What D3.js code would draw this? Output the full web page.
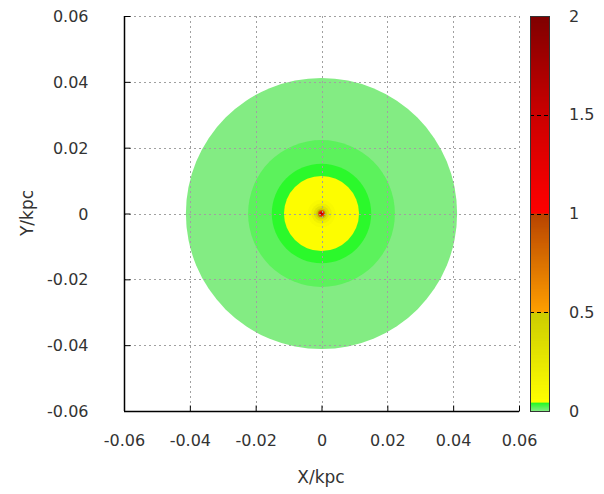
<!DOCTYPE html>
<html>
<head>
<meta charset="utf-8">
<script src="https://cdn.jsdelivr.net/npm/d3@7"></script>
<style>
  body { margin: 0; background: white; }
  text { font-family: "DejaVu Sans", sans-serif; }
</style>
</head>
<body>
<script>
// axis ticks (kpc)
const xTicks = [-0.06, -0.04, -0.02, 0, 0.02, 0.04, 0.06];
const yTicks = [-0.06, -0.04, -0.02, 0, 0.02, 0.04, 0.06];
const cbTicks = [0, 0.5, 1, 1.5, 2];

// radial density bands: outer radius (kpc) and value
const bandRadius = [0.0412, 0.0223, 0.0151, 0.0114, 0.0042, 0.0031, 0.0023, 0.0016, 0.0011, 0.0007, 0.0004];
const bandValue = [0.003, 0.02, 0.041, 0.06, 0.1, 0.18, 0.3, 0.5, 0.8, 1.15, 1.6];

// palette stops
const palStops = [0, 0.045, 0.0451, 0.5, 0.5001, 1, 1.0001, 1.5, 2];
const palColors = ['#8aeb8a', '#22fa22', '#ffff00', '#cccc00', '#ffa000', '#b84400', '#ff0000', '#cc0000', '#800000'];

const W = 604, H = 494;
const pLeft = 124, pRight = 519, pTop = 16, pBottom = 411;

const svg = d3.select('body').append('svg')
    .attr('width', W)
    .attr('height', H);

const x = d3.scaleLinear().domain([-0.06, 0.06]).range([pLeft, pRight]);
const y = d3.scaleLinear().domain([-0.06, 0.06]).range([pBottom, pTop]);
const color = d3.scaleLinear().domain(palStops).range(palColors).clamp(true);

svg.append('clipPath').attr('id', 'plotclip')
  .append('rect')
    .attr('x', pLeft).attr('y', pTop)
    .attr('width', pRight - pLeft).attr('height', pBottom - pTop);

// map
const map = svg.append('g').attr('clip-path', 'url(#plotclip)');
map.selectAll('circle')
    .data(bandRadius.map((r, i) => ({ r: r, v: bandValue[i] })))
    .enter()
    .append('circle')
    .attr('cx', x(0))
    .attr('cy', y(0))
    .attr('r', d => x(d.r) - x(0))
    .attr('fill', d => color(d.v));

// grid
const grid = svg.append('g')
    .attr('stroke', '#a0a0a0')
    .attr('stroke-width', 1)
    .attr('stroke-dasharray', '2,3');
grid.selectAll('.gx').data(xTicks).enter().append('line')
    .attr('x1', d => Math.round(x(d)) + 0.5).attr('x2', d => Math.round(x(d)) + 0.5)
    .attr('y1', pTop).attr('y2', pBottom);
grid.selectAll('.gy').data(yTicks).enter().append('line')
    .attr('y1', d => Math.round(y(d)) + 0.5).attr('y2', d => Math.round(y(d)) + 0.5)
    .attr('x1', pLeft).attr('x2', pRight);

// axes (ticks inward)
const fmt = d => d === 0 ? '0' : d3.format('.2f')(d).replace('\u2212', '-');
const xAxis = d3.axisBottom(x).tickValues(xTicks).tickSize(-6).tickFormat(fmt);
const yAxis = d3.axisLeft(y).tickValues(yTicks).tickSize(-6).tickFormat(fmt);

const gx = svg.append('g')
    .attr('transform', `translate(0, ${pBottom + 0.5})`)
    .call(xAxis);
const gy = svg.append('g')
    .attr('transform', `translate(${pLeft + 0.5}, 0)`)
    .call(yAxis);

[gx, gy].forEach(g => {
  g.attr('font-family', null).attr('font-size', null);
  g.select('.domain').attr('stroke', '#000').attr('stroke-width', 1.5);
  g.selectAll('.tick line').attr('stroke', '#000');
  g.selectAll('.tick text')
    .style('font-size', '16px')
    .style('fill', '#333');
});
gx.select('.domain').attr('d', `M${pLeft},0H${pRight}`);
gy.select('.domain').attr('d', `M0,${pTop}V${pBottom}`);
gx.selectAll('.tick text').attr('y', 23).attr('dy', '0.71em');
gy.selectAll('.tick text').attr('x', -36).attr('dy', '0.35em');

// axis titles
svg.append('text')
    .attr('x', 321)
    .attr('y', 483)
    .attr('text-anchor', 'middle')
    .style('font-size', '17px')
    .style('fill', '#333')
    .text('X/kpc');

svg.append('text')
    .attr('transform', 'translate(33, 213) rotate(-90)')
    .attr('text-anchor', 'middle')
    .style('font-size', '17px')
    .style('fill', '#333')
    .text('Y/kpc');

// colorbar
const cbX = 530, cbW = 20;
const cb = d3.scaleLinear().domain([0, 2]).range([pBottom, pTop]);
const step = 2 / (pBottom - pTop);
const steps = d3.range(0, 2, step);
svg.append('g').selectAll('rect')
    .data(steps)
    .enter()
    .append('rect')
    .attr('x', cbX)
    .attr('y', d => cb(d + step))
    .attr('width', cbW)
    .attr('height', cb(0) - cb(step) + 0.6)
    .attr('fill', d => color(d + step / 2));

svg.append('g')
    .attr('stroke', '#000')
    .attr('stroke-dasharray', '4,3')
    .selectAll('line')
    .data(cbTicks.filter(d => d > 0 && d < 2))
    .enter()
    .append('line')
    .attr('x1', cbX).attr('x2', cbX + cbW)
    .attr('y1', d => Math.round(cb(d)) + 0.5).attr('y2', d => Math.round(cb(d)) + 0.5);

svg.append('rect')
    .attr('x', cbX + 0.5).attr('y', pTop + 0.5)
    .attr('width', cbW - 1).attr('height', pBottom - pTop)
    .attr('fill', 'none')
    .attr('stroke', '#333');

svg.append('g').selectAll('text')
    .data(cbTicks)
    .enter()
    .append('text')
    .attr('x', 569)
    .attr('y', d => cb(d))
    .attr('dy', '0.35em')
    .style('font-size', '16px')
    .style('fill', '#333')
    .text(d => d);
</script>
</body>
</html>
